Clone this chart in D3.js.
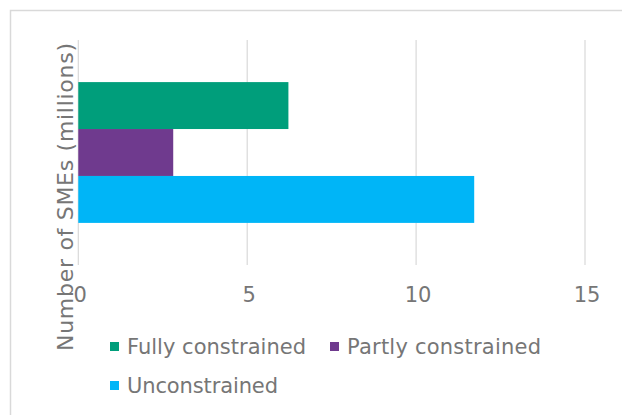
<!DOCTYPE html>
<html>
<head>
<meta charset="utf-8">
<script src="https://cdn.jsdelivr.net/npm/d3@7/dist/d3.min.js"></script>
<style>
  html, body { margin: 0; padding: 0; background: #ffffff; }
  svg { display: block; }
  text { font-family: "DejaVu Sans", sans-serif; }
</style>
</head>
<body>
<svg id="chart" width="622" height="415"></svg>
<script>
// ---- data ----
const categories = ["SMEs"];
const seriesNames = ["Fully constrained", "Partly constrained", "Unconstrained"];
const seriesValues = [6.22, 2.81, 11.72];
const seriesColors = ["#009E7B", "#6F3A8E", "#00B5F7"];
const xTicks = [0, 5, 10, 15];
const axisTitle = "Number of SMEs (millions)";

const svg = d3.select("#chart");
const W = 622, H = 415;

// outer border (chart area frame)
svg.append("rect")
  .attr("x", 10.5).attr("y", 10.5)
  .attr("width", W + 20).attr("height", H + 20)
  .attr("fill", "none").attr("stroke", "#d9d9d9").attr("stroke-width", 1.5);

const plot = { left: 78.3, right: 585, top: 40, bottom: 265 };

const x = d3.scaleLinear().domain([0, 15]).range([plot.left, plot.right]);
const yCat = d3.scaleBand().domain(categories).range([plot.top, plot.bottom]);
const ySer = d3.scaleBand().domain(seriesNames)
  .range([0, yCat.bandwidth()]).paddingInner(0).paddingOuter(0.897);

// gridlines
svg.append("g").selectAll("line").data(xTicks).join("line")
  .attr("x1", d => x(d)).attr("x2", d => x(d))
  .attr("y1", plot.top).attr("y2", plot.bottom)
  .attr("stroke", "#d9d9d9").attr("stroke-width", 1.2);

// bars
const data = seriesNames.map((s, i) => ({ cat: categories[0], name: s, value: seriesValues[i], color: seriesColors[i] }));
svg.append("g").selectAll("rect").data(data).join("rect")
  .attr("x", x(0))
  .attr("y", d => yCat(d.cat) + ySer(d.name))
  .attr("width", d => x(d.value) - x(0))
  .attr("height", ySer.bandwidth())
  .attr("fill", d => d.color);

// x tick labels
const xAxis = d3.axisBottom(x).tickValues(xTicks).tickSize(0).tickPadding(0).tickFormat(d3.format("d"));
const gx = svg.append("g").attr("transform", `translate(1.5, ${plot.bottom})`).call(xAxis);
gx.select(".domain").remove();
gx.selectAll("text")
  .attr("y", 37).attr("dy", null)
  .attr("font-family", "DejaVu Sans, sans-serif")
  .attr("font-size", 21).attr("fill", "#767676");

// axis title (rotated)
svg.append("text")
  .attr("transform", "translate(73, 197) rotate(-90)")
  .attr("text-anchor", "middle")
  .attr("font-size", 22).attr("fill", "#767676")
  .attr("textLength", 308).attr("lengthAdjust", "spacing")
  .text(axisTitle);

// legend
const legendPos = [
  { x: 110, y: 347 },
  { x: 330, y: 347 },
  { x: 110, y: 386 }
];
const legendLen = [179, 194, 151];
const lg = svg.append("g").selectAll("g").data(data).join("g")
  .attr("transform", (d, i) => `translate(${legendPos[i].x}, ${legendPos[i].y})`);
lg.append("rect").attr("x", 0).attr("y", -5).attr("width", 9).attr("height", 9)
  .attr("fill", d => d.color);
lg.append("text").attr("x", 17).attr("y", 7)
  .attr("font-size", 21).attr("fill", "#767676")
  .attr("textLength", (d, i) => legendLen[i]).attr("lengthAdjust", "spacing")
  .text(d => d.name);
</script>
</body>
</html>
